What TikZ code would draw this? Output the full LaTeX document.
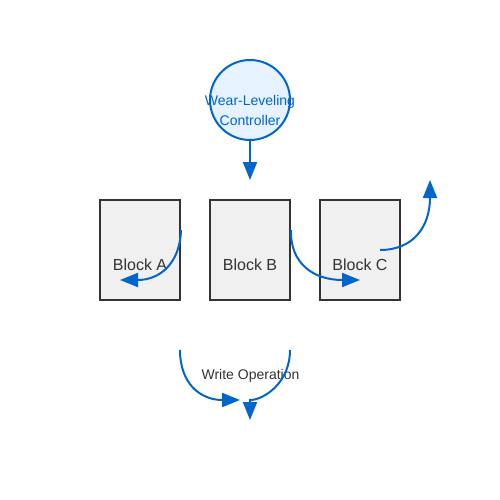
\documentclass[tikz,border=0pt]{standalone}
\usepackage{fontspec}
\setmainfont{Liberation Sans}
\usetikzlibrary{arrows.meta}
\definecolor{ctrlblue}{HTML}{0066CC}
\definecolor{ctrlfill}{HTML}{E6F2FF}
\definecolor{blockfill}{HTML}{F0F0F0}
\definecolor{darktext}{HTML}{333333}
\tikzset{
  blockbox/.style={draw=darktext, fill=blockfill, line width=2pt, minimum width=80pt, minimum height=100pt, inner sep=0pt},
  blocklabel/.style={text=darktext, font=\fontsize{16}{19}\selectfont, inner sep=0pt},
  flow/.style={draw=ctrlblue, line width=2pt, -{Triangle[length=18pt,width=14pt]}},
}
\begin{document}
\begin{tikzpicture}[x=1pt,y=-1pt]
\useasboundingbox (0,0) rectangle (500,500);
\node[circle, draw=ctrlblue, fill=ctrlfill, line width=2pt, minimum size=80pt, inner sep=0pt] (ctrl) at (250,100) {};
\node[text=ctrlblue, font=\fontsize{14}{20}\selectfont, align=center, inner sep=0pt] (ctrltext) at (250,110) {Wear-Leveling\\Controller};
\coordinate (ctrltip) at (250,180);
\draw[flow] (ctrl.south) -- (ctrltip);

\node[blockbox] (A) at (140,250) {};
\node[blockbox] (B) at (250,250) {};
\node[blockbox] (C) at (360,250) {};
\node[blocklabel] (Alab) at (140,265) {Block A};
\node[blocklabel] (Blab) at (250,265) {Block B};
\node[blocklabel] (Clab) at (360,265) {Block C};

\coordinate (tipA) at (120,280);
\coordinate (tipC) at (360,280);
\coordinate (startC) at (380,250);
\coordinate (tipUp) at (430,180);
\draw[flow] ([yshift=20pt]A.east) .. controls (180,263.3) and (160,280) .. (tipA);
\draw[flow] ([yshift=20pt]B.east) .. controls (290,263.3) and (313.3,280) .. (tipC);
\draw[flow] (startC) .. controls (413.3,250) and (430,226.7) .. (tipUp);

\node[text=darktext, font=\fontsize{14}{17}\selectfont, inner sep=0pt] (write) at (250.5,376) {Write Operation};
\coordinate (wl) at (180,350);
\coordinate (wr) at (290,350);
\coordinate (wltip) at (240,400);
\coordinate (wrmid) at (250,400);
\coordinate (wrtip) at (250,420);
\draw[flow] (wl) .. controls (180,383.3) and (200,400) .. (wltip);
\draw[flow] (wr) .. controls (290,383.3) and (263.3,400) .. (wrmid) -- (wrtip);
\end{tikzpicture}
\end{document}
